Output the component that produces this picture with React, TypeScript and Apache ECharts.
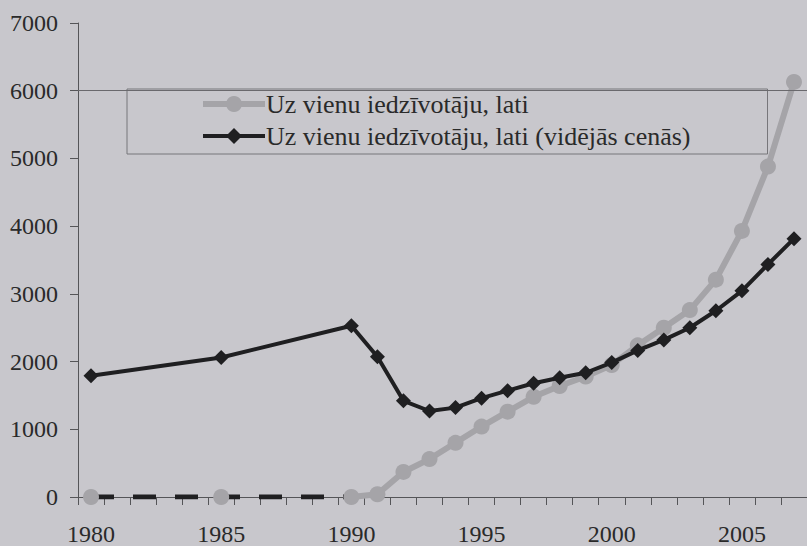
import React, { useEffect, useRef } from "react";
import * as echarts from "echarts";

const years = [
  "1980", "1981", "1982", "1983", "1984", "1985", "1986", "1987", "1988", "1989",
  "1990", "1991", "1992", "1993", "1994", "1995", "1996", "1997", "1998", "1999",
  "2000", "2001", "2002", "2003", "2004", "2005", "2006", "2007",
];

const seriesNames = [
  "Uz vienu iedzīvotāju, lati",
  "Uz vienu iedzīvotāju, lati (vidējās cenās)",
];

// nominal, lati per inhabitant
const nominal = [
  0, null, null, null, null, 0, null, null, null, null,
  0, 40, 370, 560, 800, 1040, 1260, 1480, 1640, 1780,
  1950, 2240, 2500, 2760, 3210, 3930, 4880, 6130,
];

// average prices
const averagePrices = [
  1790, null, null, null, null, 2060, null, null, null, null,
  2530, 2070, 1420, 1270, 1320, 1460, 1570, 1680, 1760, 1835,
  1985, 2165, 2320, 2500, 2750, 3045, 3435, 3815,
];

// dashed zero line before lats
const zeroLine = [
  0, null, null, null, null, 0, null, null, null, null,
  0, null, null, null, null, null, null, null, null, null,
  null, null, null, null, null, null, null, null,
];

const yTicks = { min: 0, max: 7000, interval: 1000 };
const referenceLine = 6000;

const BG = "#c8c7cc";
const TEXT = "#2a2a2a";
const AXIS = "#555558";
const GRAY = "#a5a4a8";
const BLACK = "#1f1f21";
const FONT = "Liberation Serif";

export default function App() {
  const ref = useRef<HTMLDivElement>(null);

  useEffect(() => {
    if (!ref.current) return;
    const chart = echarts.init(ref.current, undefined, { renderer: "svg" });
    chart.setOption({
      animation: false,
      backgroundColor: BG,
      textStyle: { fontFamily: FONT, color: TEXT },
      grid: { left: 78, top: 23, width: 736, height: 474, containLabel: false },
      legend: {
        data: [
          { name: seriesNames[0], lineStyle: { color: GRAY, width: 6 } },
          { name: seriesNames[1], lineStyle: { color: BLACK, width: 4 } },
        ],
        orient: "vertical",
        left: 127,
        top: 89,
        padding: [2, 77, 5, 73],
        itemGap: 6,
        itemWidth: 62,
        itemHeight: 20,
        backgroundColor: BG,
        borderColor: "#77767a",
        borderWidth: 1,
        textStyle: { fontFamily: FONT, fontSize: 26, color: TEXT, padding: [0, 0, 0, -4] },
      },
      xAxis: {
        type: "category",
        data: years,
        boundaryGap: true,
        axisLine: { show: true, lineStyle: { color: AXIS, width: 1 } },
        axisTick: { show: true, interval: 0, length: 8, lineStyle: { color: AXIS } },
        axisLabel: { interval: 4, margin: 25, fontSize: 24, fontFamily: FONT, color: TEXT },
        splitLine: { show: false },
      },
      yAxis: {
        type: "value",
        min: yTicks.min,
        max: yTicks.max,
        interval: yTicks.interval,
        axisLine: { show: true, lineStyle: { color: AXIS, width: 1 } },
        axisTick: { show: true, length: 8, lineStyle: { color: AXIS } },
        axisLabel: {
          margin: 20,
          fontSize: 24,
          fontFamily: FONT,
          color: TEXT,
          formatter: (v: number) => String(v),
        },
        splitLine: { show: false },
      },
      series: [
        {
          name: seriesNames[0],
          type: "line",
          data: nominal,
          connectNulls: false,
          symbol: "circle",
          symbolSize: 16,
          showAllSymbol: true,
          z: 2,
          lineStyle: { color: GRAY, width: 6 },
          itemStyle: { color: GRAY },
          markLine: {
            silent: true,
            symbol: "none",
            label: { show: false },
            lineStyle: { color: "#6a696d", width: 1, type: "solid" },
            data: [{ yAxis: referenceLine }],
          },
        },
        {
          name: seriesNames[1],
          type: "line",
          data: averagePrices,
          connectNulls: true,
          symbol: "diamond",
          symbolSize: 15,
          showAllSymbol: true,
          z: 4,
          lineStyle: { color: BLACK, width: 4 },
          itemStyle: { color: BLACK },
        },
        {
          name: "zero",
          type: "line",
          data: zeroLine,
          connectNulls: true,
          symbol: "none",
          z: 1,
          lineStyle: { color: BLACK, width: 5, type: [23, 19] },
        },
      ],
    });
    return () => chart.dispose();
  }, []);

  return (
    <div
      ref={ref}
      style={{ position: "fixed", left: 0, top: 0, width: 807, height: 546 }}
    />
  );
}
